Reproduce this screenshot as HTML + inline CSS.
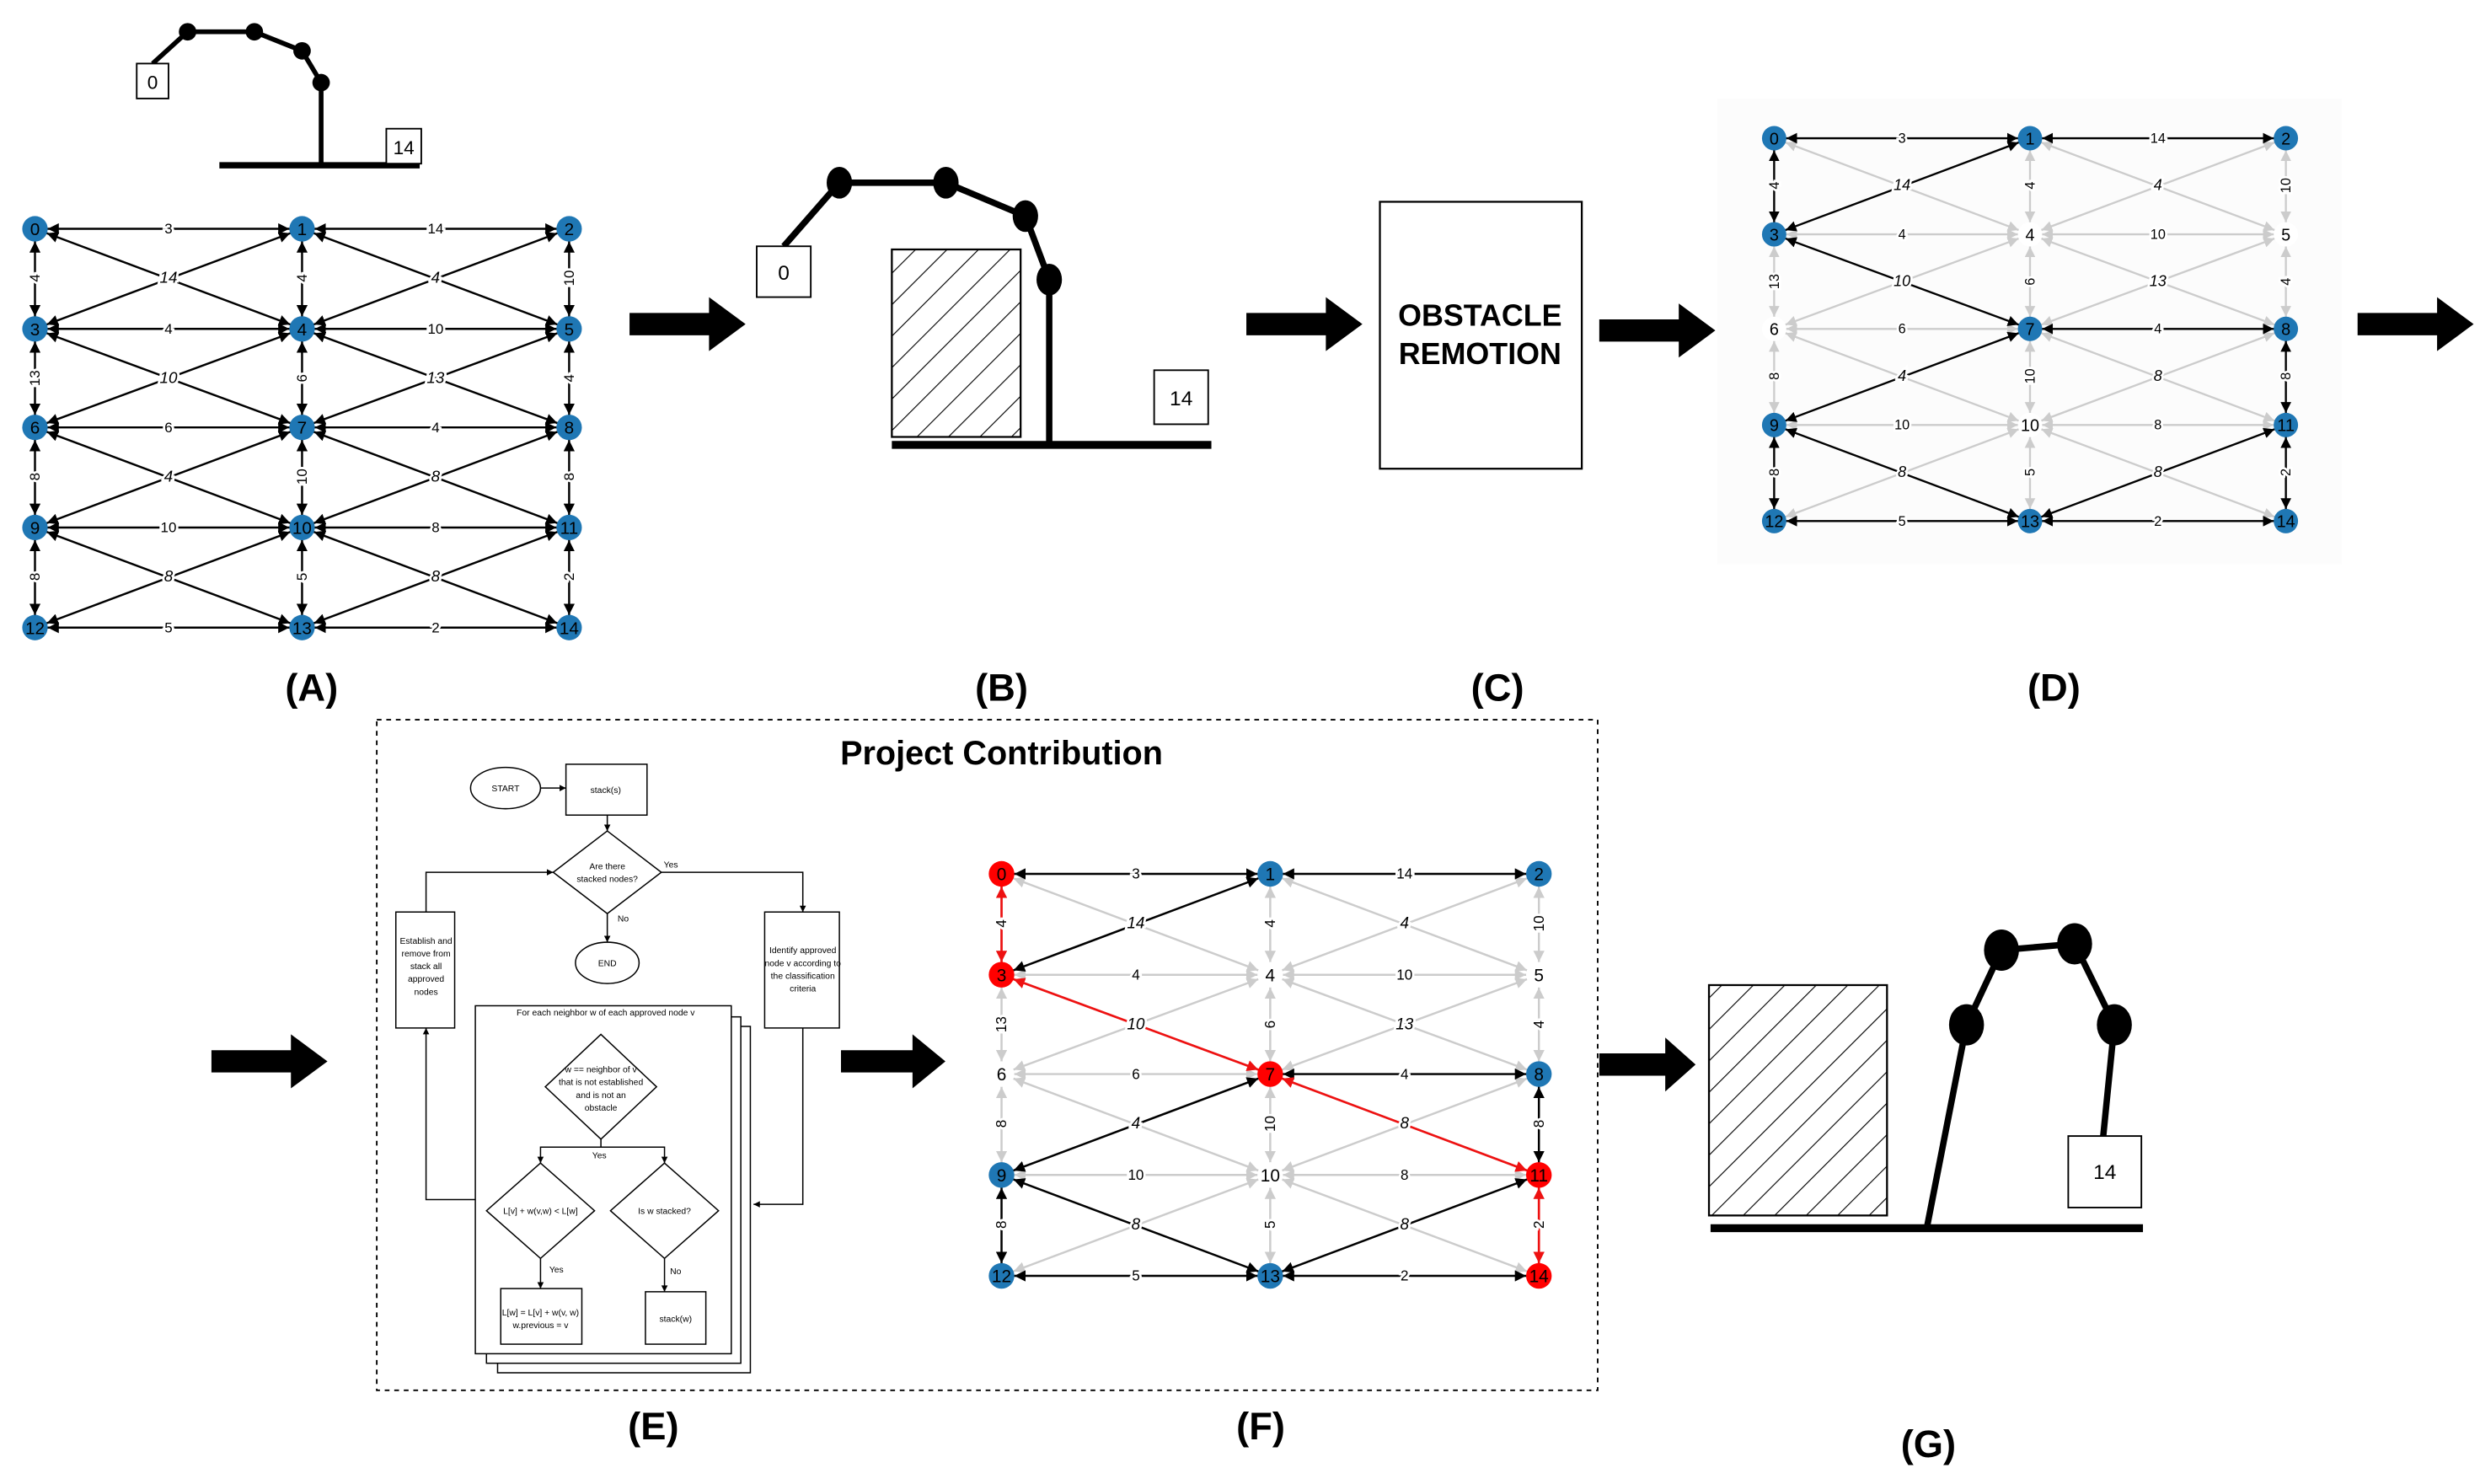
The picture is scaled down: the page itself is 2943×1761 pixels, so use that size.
<!DOCTYPE html>
<html><head><meta charset="utf-8"><style>
html,body{margin:0;padding:0;background:#fff;}
svg{display:block;}
text{font-family:"Liberation Sans",sans-serif;}
</style></head><body>
<svg width="2943" height="1761" viewBox="0 0 1560 934" preserveAspectRatio="none" xmlns="http://www.w3.org/2000/svg">
<defs>
<marker id="ar" markerUnits="userSpaceOnUse" markerWidth="8" markerHeight="7" refX="15" refY="3.5" orient="auto-start-reverse"><path d="M0,0 L7,3.5 L0,7 z" fill="context-stroke"/></marker>
<pattern id="hatch" patternUnits="userSpaceOnUse" width="14" height="14" patternTransform="rotate(45)"><line x1="0" y1="0" x2="0" y2="14" stroke="#000" stroke-width="1.2"/></pattern>
<g id="E" stroke-width="1.3" marker-start="url(#ar)" marker-end="url(#ar)" fill="none">
<line id="e0_1" x1="0" y1="0" x2="168" y2="0"/><line id="e1_2" x1="168" y1="0" x2="336" y2="0"/>
<line id="e3_4" x1="0" y1="63" x2="168" y2="63"/><line id="e4_5" x1="168" y1="63" x2="336" y2="63"/>
<line id="e6_7" x1="0" y1="125" x2="168" y2="125"/><line id="e7_8" x1="168" y1="125" x2="336" y2="125"/>
<line id="e9_10" x1="0" y1="188" x2="168" y2="188"/><line id="e10_11" x1="168" y1="188" x2="336" y2="188"/>
<line id="e12_13" x1="0" y1="251" x2="168" y2="251"/><line id="e13_14" x1="168" y1="251" x2="336" y2="251"/>
<line id="e0_3" x1="0" y1="0" x2="0" y2="63"/><line id="e3_6" x1="0" y1="63" x2="0" y2="125"/><line id="e6_9" x1="0" y1="125" x2="0" y2="188"/><line id="e9_12" x1="0" y1="188" x2="0" y2="251"/>
<line id="e1_4" x1="168" y1="0" x2="168" y2="63"/><line id="e4_7" x1="168" y1="63" x2="168" y2="125"/><line id="e7_10" x1="168" y1="125" x2="168" y2="188"/><line id="e10_13" x1="168" y1="188" x2="168" y2="251"/>
<line id="e2_5" x1="336" y1="0" x2="336" y2="63"/><line id="e5_8" x1="336" y1="63" x2="336" y2="125"/><line id="e8_11" x1="336" y1="125" x2="336" y2="188"/><line id="e11_14" x1="336" y1="188" x2="336" y2="251"/>
<line id="e0_4" x1="0" y1="0" x2="168" y2="63"/><line id="e1_3" x1="168" y1="0" x2="0" y2="63"/>
<line id="e1_5" x1="168" y1="0" x2="336" y2="63"/><line id="e2_4" x1="336" y1="0" x2="168" y2="63"/>
<line id="e3_7" x1="0" y1="63" x2="168" y2="125"/><line id="e4_6" x1="168" y1="63" x2="0" y2="125"/>
<line id="e4_8" x1="168" y1="63" x2="336" y2="125"/><line id="e5_7" x1="336" y1="63" x2="168" y2="125"/>
<line id="e6_10" x1="0" y1="125" x2="168" y2="188"/><line id="e7_9" x1="168" y1="125" x2="0" y2="188"/>
<line id="e7_11" x1="168" y1="125" x2="336" y2="188"/><line id="e8_10" x1="336" y1="125" x2="168" y2="188"/>
<line id="e9_13" x1="0" y1="188" x2="168" y2="251"/><line id="e10_12" x1="168" y1="188" x2="0" y2="251"/>
<line id="e10_14" x1="168" y1="188" x2="336" y2="251"/><line id="e11_13" x1="336" y1="188" x2="168" y2="251"/>
</g>
<g id="L" font-size="9" text-anchor="middle" fill="#000" stroke="#fff" stroke-width="3" paint-order="stroke">
<text x="84" y="3">3</text><text x="252" y="3">14</text>
<text x="84" y="66">4</text><text x="252" y="66">10</text>
<text x="84" y="128">6</text><text x="252" y="128">4</text>
<text x="84" y="191">10</text><text x="252" y="191">8</text>
<text x="84" y="254">5</text><text x="252" y="254">2</text>
<g font-style="italic" font-size="10"><text x="84" y="34">14</text><text x="252" y="34">4</text><text x="84" y="97">10</text><text x="252" y="97">13</text><text x="84" y="159">4</text><text x="252" y="159">8</text><text x="84" y="222">8</text><text x="252" y="222">8</text></g>
<text transform="translate(3,31) rotate(-90)">4</text><text transform="translate(3,94) rotate(-90)">13</text><text transform="translate(3,156) rotate(-90)">8</text><text transform="translate(3,219) rotate(-90)">8</text>
<text transform="translate(171,31) rotate(-90)">4</text><text transform="translate(171,94) rotate(-90)">6</text><text transform="translate(171,156) rotate(-90)">10</text><text transform="translate(171,219) rotate(-90)">5</text>
<text transform="translate(339,31) rotate(-90)">10</text><text transform="translate(339,94) rotate(-90)">4</text><text transform="translate(339,156) rotate(-90)">8</text><text transform="translate(339,219) rotate(-90)">2</text>
</g>
<g id="NL" font-size="11" text-anchor="middle" fill="#000">
<text x="0" y="4">0</text><text x="168" y="4">1</text><text x="336" y="4">2</text>
<text x="0" y="67">3</text><text x="168" y="67">4</text><text x="336" y="67">5</text>
<text x="0" y="129">6</text><text x="168" y="129">7</text><text x="336" y="129">8</text>
<text x="0" y="192">9</text><text x="168" y="192">10</text><text x="336" y="192">11</text>
<text x="0" y="255">12</text><text x="168" y="255">13</text><text x="336" y="255">14</text>
</g>
<g id="arrowshape"><path d="M0,-7 L50,-7 L50,-17 L73,0 L50,17 L50,7 L0,7 z" fill="#000"/></g>
</defs>

<g transform="translate(22,144)">
<use href="#E" stroke="#000"/>
<use href="#L"/>
<g fill="#1f77b4"><circle cx="0" cy="0" r="8"/><circle cx="168" cy="0" r="8"/><circle cx="336" cy="0" r="8"/><circle cx="0" cy="63" r="8"/><circle cx="168" cy="63" r="8"/><circle cx="336" cy="63" r="8"/><circle cx="0" cy="125" r="8"/><circle cx="168" cy="125" r="8"/><circle cx="336" cy="125" r="8"/><circle cx="0" cy="188" r="8"/><circle cx="168" cy="188" r="8"/><circle cx="336" cy="188" r="8"/><circle cx="0" cy="251" r="8"/><circle cx="168" cy="251" r="8"/><circle cx="336" cy="251" r="8"/></g>
<use href="#NL"/>
</g>

<g stroke="#000" fill="none">
<line x1="138" y1="104" x2="264" y2="104" stroke-width="4"/>
<polyline points="96,40 118,20 160,20 190,32 202,52 202,104" stroke-width="3"/>
</g>
<g fill="#000"><circle cx="118" cy="20" r="5.5"/><circle cx="160" cy="20" r="5.5"/><circle cx="190" cy="32" r="5.5"/><circle cx="202" cy="52" r="5.5"/></g>
<rect x="86" y="40" width="20" height="22" fill="#fff" stroke="#000"/><text x="96" y="56" font-size="12" text-anchor="middle">0</text>
<rect x="243" y="81" width="22" height="22" fill="#fff" stroke="#000"/><text x="254" y="97" font-size="12" text-anchor="middle">14</text>

<rect x="561" y="157" width="81" height="118" fill="url(#hatch)" stroke="#000" stroke-width="1.2"/>
<g stroke="#000" fill="none">
<line x1="561" y1="280" x2="762" y2="280" stroke-width="5"/>
<polyline points="493,155 528,115 595,115 645,136 660,176 660,280" stroke-width="4"/>
</g>
<g fill="#000"><ellipse cx="528" cy="115" rx="8" ry="10"/><ellipse cx="595" cy="115" rx="8" ry="10"/><ellipse cx="645" cy="136" rx="8" ry="10"/><ellipse cx="660" cy="176" rx="8" ry="10"/></g>
<rect x="476" y="155" width="34" height="32" fill="#fff" stroke="#000"/><text x="493" y="176" font-size="13" text-anchor="middle">0</text>
<rect x="726" y="233" width="34" height="34" fill="#fff" stroke="#000"/><text x="743" y="255" font-size="13" text-anchor="middle">14</text>

<rect x="868" y="127" width="127" height="168" fill="#fff" stroke="#000" stroke-width="1.2"/>
<text x="931" y="205" font-size="19" font-weight="bold" text-anchor="middle">OBSTACLE</text>
<text x="931" y="229" font-size="19" font-weight="bold" text-anchor="middle">REMOTION</text>

<rect x="1080" y="62" width="393" height="293" fill="#fcfcfc"/>
<g transform="translate(1116,87) scale(0.958,0.96)">
<use href="#E" stroke="#cccccc"/>
<g stroke="#000" stroke-width="1.3" marker-start="url(#ar)" marker-end="url(#ar)">
<use href="#e0_1"/><use href="#e0_3"/><use href="#e1_3"/><use href="#e7_8"/><use href="#e7_9"/><use href="#e9_12"/><use href="#e9_13"/><use href="#e12_13"/><use href="#e8_11"/><use href="#e11_13"/><use href="#e3_7"/><use href="#e11_14"/><use href="#e13_14"/><use href="#e1_2"/>
</g>
<use href="#L"/>
<g fill="#1f77b4"><circle cx="0" cy="0" r="8"/><circle cx="168" cy="0" r="8"/><circle cx="336" cy="0" r="8"/><circle cx="0" cy="63" r="8"/><circle cx="168" cy="125" r="8"/><circle cx="336" cy="125" r="8"/><circle cx="0" cy="188" r="8"/><circle cx="336" cy="188" r="8"/><circle cx="0" cy="251" r="8"/><circle cx="168" cy="251" r="8"/><circle cx="336" cy="251" r="8"/></g>
<g fill="#fff"><circle cx="168" cy="63" r="8"/><circle cx="336" cy="63" r="8"/><circle cx="0" cy="125" r="8"/><circle cx="168" cy="188" r="8"/></g>
<use href="#NL"/>
</g>

<use href="#arrowshape" transform="translate(396,204)"/>
<use href="#arrowshape" transform="translate(784,204)"/>
<use href="#arrowshape" transform="translate(1006,208)"/>
<use href="#arrowshape" transform="translate(1483,204)"/>
<use href="#arrowshape" transform="translate(133,668)"/>
<use href="#arrowshape" transform="translate(529,668) scale(0.9,1)"/>
<use href="#arrowshape" transform="translate(1006,670) scale(0.83,1)"/>

<g font-size="24" font-weight="bold" text-anchor="middle">
<text x="196" y="441">(A)</text><text x="630" y="441">(B)</text><text x="942" y="441">(C)</text><text x="1292" y="441">(D)</text>
<text x="411" y="906">(E)</text><text x="793" y="906">(F)</text><text x="1213" y="917">(G)</text>
</g>

<rect x="237" y="453" width="768" height="422" fill="none" stroke="#000" stroke-width="1" stroke-dasharray="3,3"/>
<text x="630" y="481" font-size="21" font-weight="bold" text-anchor="middle">Project Contribution</text>

<g stroke="#000" stroke-width="0.8" fill="#fff" font-size="6">
<ellipse cx="318" cy="496" rx="22" ry="13"/>
<rect x="356" y="481" width="51" height="32"/>
<path d="M382,523 L416,549 L382,575 L348,549 z"/>
<ellipse cx="382" cy="606" rx="20" ry="13"/>
<rect x="481" y="574" width="47" height="73"/>
<rect x="249" y="574" width="37" height="73"/>
<rect x="313" y="646" width="159" height="218"/>
<rect x="306" y="640" width="160" height="218"/>
<rect x="299" y="633" width="161" height="219"/>
<path d="M378,651 L413,684 L378,717 L343,684 z"/>
<path d="M340,732 L374,762 L340,792 L306,762 z"/>
<path d="M418,732 L452,762 L418,792 L384,762 z"/>
<rect x="315" y="811" width="51" height="35"/>
<rect x="406" y="813" width="38" height="33"/>
<g fill="none">
<polyline points="340,496 356,496"/>
<polyline points="382,513 382,523"/>
<polyline points="416,549 505,549 505,574"/>
<polyline points="382,575 382,593"/>
<polyline points="505,647 505,758 474,758"/>
<polyline points="299,755 268,755 268,647"/>
<polyline points="268,574 268,549 348,549"/>
<polyline points="378,717 378,722 340,722 340,732"/>
<polyline points="378,722 418,722 418,732"/>
<polyline points="340,792 340,811"/>
<polyline points="418,792 418,813"/>
</g>
</g>
<g fill="#000">
<path d="M356,496 l-4,-2 v4z"/><path d="M382,523 l-2,-4 h4z"/><path d="M505,574 l-2,-4 h4z"/><path d="M382,593 l-2,-4 h4z"/><path d="M474,758 l4,-2 v4z"/><path d="M268,647 l-2,4 h4z"/><path d="M348,549 l-4,-2 v4z"/><path d="M340,732 l-2,-4 h4z"/><path d="M418,732 l-2,-4 h4z"/><path d="M340,811 l-2,-4 h4z"/><path d="M418,813 l-2,-4 h4z"/>
</g>
<g font-size="5.5" text-anchor="middle" fill="#000">
<text x="318" y="498">START</text>
<text x="381" y="499">stack(s)</text>
<text x="382" y="547">Are there</text><text x="382" y="555">stacked nodes?</text>
<text x="422" y="546">Yes</text><text x="392" y="580">No</text>
<text x="382" y="608">END</text>
<text x="505" y="600">Identify approved</text><text x="505" y="608">node v according to</text><text x="505" y="616">the classification</text><text x="505" y="624">criteria</text>
<text x="268" y="594">Establish and</text><text x="268" y="602">remove from</text><text x="268" y="610">stack all</text><text x="268" y="618">approved</text><text x="268" y="626">nodes</text>
<text x="381" y="639">For each neighbor w of each approved node v</text>
<text x="378" y="675">w == neighbor of v</text><text x="378" y="683">that is not established</text><text x="378" y="691">and is not an</text><text x="378" y="699">obstacle</text>
<text x="377" y="729">Yes</text>
<text x="340" y="764">L[v] + w(v,w) &lt; L[w]</text>
<text x="418" y="764">Is w stacked?</text>
<text x="350" y="801">Yes</text><text x="425" y="802">No</text>
<text x="340" y="828">L[w] = L[v] + w(v, w)</text><text x="340" y="836">w.previous = v</text>
<text x="425" y="832">stack(w)</text>
</g>

<g transform="translate(630,550) scale(1.006,1.008)">
<use href="#E" stroke="#cccccc"/>
<g stroke="#000" stroke-width="1.3" marker-start="url(#ar)" marker-end="url(#ar)">
<use href="#e0_1"/><use href="#e1_3"/><use href="#e1_2"/><use href="#e7_8"/><use href="#e7_9"/><use href="#e9_12"/><use href="#e9_13"/><use href="#e12_13"/><use href="#e8_11"/><use href="#e11_13"/><use href="#e13_14"/>
</g>
<g stroke="#ee1111" stroke-width="1.4" marker-start="url(#ar)" marker-end="url(#ar)">
<use href="#e0_3"/><use href="#e3_7"/><use href="#e7_11"/><use href="#e11_14"/>
</g>
<use href="#L"/>
<g fill="#1f77b4"><circle cx="168" cy="0" r="8"/><circle cx="336" cy="0" r="8"/><circle cx="336" cy="125" r="8"/><circle cx="0" cy="188" r="8"/><circle cx="0" cy="251" r="8"/><circle cx="168" cy="251" r="8"/></g>
<g fill="#ff0000"><circle cx="0" cy="0" r="8"/><circle cx="0" cy="63" r="8"/><circle cx="168" cy="125" r="8"/><circle cx="336" cy="188" r="8"/><circle cx="336" cy="251" r="8"/></g>
<g fill="#fff"><circle cx="168" cy="63" r="8"/><circle cx="336" cy="63" r="8"/><circle cx="0" cy="125" r="8"/><circle cx="168" cy="188" r="8"/></g>
<use href="#NL"/>
</g>

<rect x="1075" y="620" width="112" height="145" fill="url(#hatch)" stroke="#000" stroke-width="1.2"/>
<g stroke="#000" fill="none">
<line x1="1076" y1="773" x2="1348" y2="773" stroke-width="5"/>
<polyline points="1212,773 1237,645 1259,598 1305,594 1330,645 1323,715" stroke-width="4"/>
</g>
<g fill="#000"><ellipse cx="1237" cy="645" rx="11" ry="13"/><ellipse cx="1259" cy="598" rx="11" ry="13"/><ellipse cx="1305" cy="594" rx="11" ry="13"/><ellipse cx="1330" cy="645" rx="11" ry="13"/></g>
<rect x="1301" y="715" width="46" height="45" fill="#fff" stroke="#000"/><text x="1324" y="742" font-size="13" text-anchor="middle">14</text>
</svg>
</body></html>
